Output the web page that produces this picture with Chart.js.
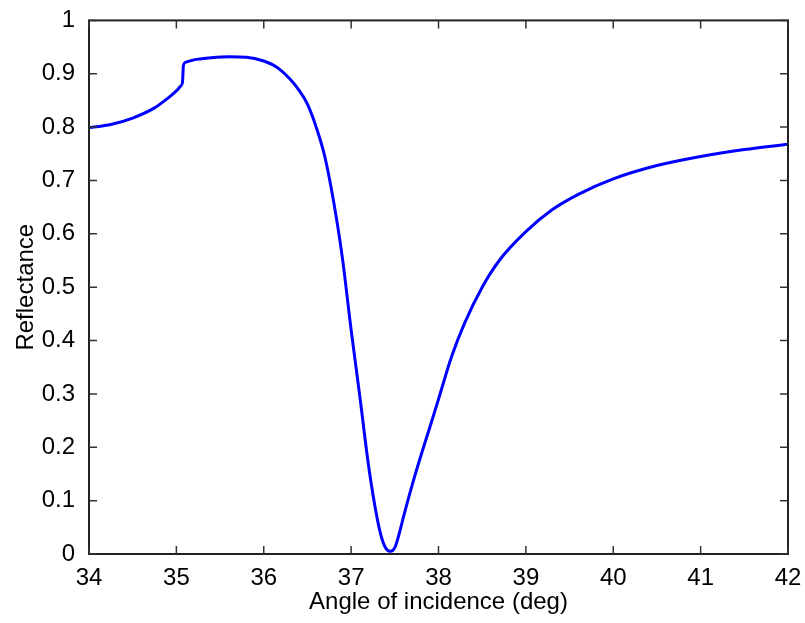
<!DOCTYPE html>
<html>
<head>
<meta charset="utf-8">
<script src="https://cdn.jsdelivr.net/npm/chart.js@4/dist/chart.umd.min.js"></script>
<style>
  html, body { margin: 0; padding: 0; background: #fff; }
  #wrap { width: 805px; height: 623px; }
</style>
</head>
<body>
<div id="wrap"><canvas id="reflChart" width="805" height="623"></canvas></div>
<script>
// values
const angles = [34, 34.25, 34.5, 34.75, 34.9, 35.0, 35.05, 35.07, 35.08, 35.1, 35.2, 35.4, 35.6, 35.8,
    36.0, 36.1, 36.2, 36.3, 36.4, 36.5, 36.6, 36.7, 36.8, 36.9, 37.0, 37.1, 37.2, 37.3, 37.35, 37.4,
    37.45, 37.5, 37.55, 37.6, 37.7, 37.8, 37.9, 38.0, 38.15, 38.3, 38.5, 38.7, 39.0, 39.3, 39.6,
    40.0, 40.5, 41.0, 41.5, 42];
const reflectance = [0.799, 0.805, 0.817, 0.836, 0.854, 0.868, 0.877, 0.884, 0.915, 0.921, 0.926, 0.930, 0.932, 0.931,
    0.924, 0.917, 0.906, 0.890, 0.870, 0.843, 0.800, 0.744, 0.660, 0.555, 0.420, 0.295, 0.165, 0.065, 0.030, 0.010,
    0.005, 0.012, 0.038, 0.070, 0.130, 0.185, 0.237, 0.290, 0.370, 0.433, 0.500, 0.551, 0.604, 0.645, 0.674,
    0.703, 0.728, 0.745, 0.758, 0.768];
const xTicks = [34, 35, 36, 37, 38, 39, 40, 41, 42];
const yTicks = [0, 0.1, 0.2, 0.3, 0.4, 0.5, 0.6, 0.7, 0.8, 0.9, 1];

const font = "'Liberation Sans', Arial, sans-serif";

// matlab style box with inward ticks on all four sides
const axesBox = {
    id: "axesBox",
    afterDraw(chart) {
        const c = chart.ctx;
        const a = chart.chartArea;
        const xs = chart.scales.x, ys = chart.scales.y;
        const len = 8;
        c.save();
        c.strokeStyle = "#222";
        c.lineWidth = 2;
        c.strokeRect(a.left, a.top, a.right - a.left, a.bottom - a.top);
        c.strokeStyle = "#333";
        c.lineWidth = 1.5;
        for (const t of xTicks) {
            const px = xs.getPixelForValue(t);
            c.beginPath();
            c.moveTo(px, a.bottom);
            c.lineTo(px, a.bottom - len);
            c.moveTo(px, a.top);
            c.lineTo(px, a.top + len);
            c.stroke();
        }
        for (const t of yTicks) {
            const py = ys.getPixelForValue(t);
            c.beginPath();
            c.moveTo(a.left, py);
            c.lineTo(a.left + len, py);
            c.moveTo(a.right, py);
            c.lineTo(a.right - len, py);
            c.stroke();
        }
        c.restore();
    }
};

new Chart(document.getElementById("reflChart"), {
    type: "line",
    data: {
        datasets: [{
            data: angles.map((a, i) => ({ x: a, y: reflectance[i] })),
            borderColor: "#0000ff",
            borderWidth: 3,
            pointRadius: 0,
            fill: false,
            cubicInterpolationMode: "monotone"
        }]
    },
    options: {
        responsive: false,
        animation: false,
        layout: { padding: { top: 15, right: 17, left: 0, bottom: 0 } },
        plugins: { legend: { display: false }, tooltip: { enabled: false } },
        scales: {
            x: {
                type: "linear",
                min: 34, max: 42,
                afterFit: s => { s.height = 69; },
                afterBuildTicks: s => { s.ticks = xTicks.map(v => ({ value: v })); },
                grid: { display: false },
                border: { display: false },
                ticks: { color: "#000", padding: 2, font: { family: font, size: 24 }, maxRotation: 0 },
                title: { display: true, text: "Angle of incidence (deg)", color: "#000",
                         font: { family: font, size: 24 }, padding: { bottom: 6 } }
            },
            y: {
                min: 0, max: 1,
                afterFit: s => { s.width = 89; },
                afterBuildTicks: s => { s.ticks = yTicks.map(v => ({ value: v })); },
                grid: { display: false },
                border: { display: false },
                ticks: { color: "#000", padding: 6, font: { family: font, size: 24 },
                         callback: v => String(Math.round(v * 10) / 10) },
                title: { display: true, text: "Reflectance", color: "#000",
                         font: { family: font, size: 24 }, padding: { top: 12 } }
            }
        }
    },
    plugins: [axesBox]
});
</script>
</body>
</html>
